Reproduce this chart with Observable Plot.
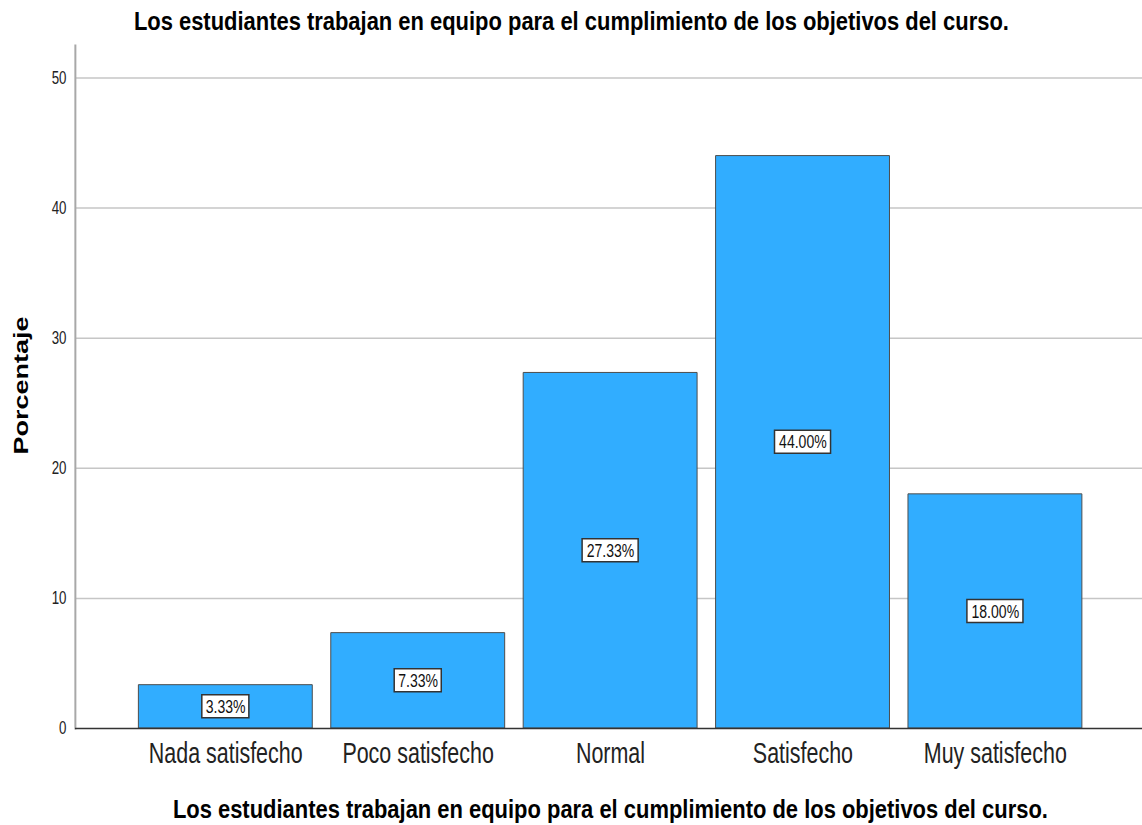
<!DOCTYPE html>
<html><head><meta charset="utf-8">
<script src="https://cdn.jsdelivr.net/npm/d3@7"></script>
<script src="https://cdn.jsdelivr.net/npm/@observablehq/plot@0.6"></script>
<style>
body{margin:0;background:#fff;}
#chart svg{display:block}
#chart svg rect, #chart svg line, #chart svg path{vector-effect:non-scaling-stroke}
</style>
</head><body><div id="chart"></div>
<script>
const categories = ["Nada satisfecho", "Poco satisfecho", "Normal", "Satisfecho", "Muy satisfecho"];
const percentages = [3.33, 7.33, 27.33, 44.00, 18.00];
const valueLabels = ["3.33%", "7.33%", "27.33%", "44.00%", "18.00%"];
const yTicks = [0, 10, 20, 30, 40, 50];
const chartTitle = "Los estudiantes trabajan en equipo para el cumplimiento de los objetivos del curso.";
const xTitle = "Los estudiantes trabajan en equipo para el cumplimiento de los objetivos del curso.";
const yTitle = "Porcentaje";

const data = categories.map((c, i) => ({category: c, value: percentages[i], label: valueLabels[i]}));

const SQ = 0.74;            // horizontal squeeze of the original rendering
const W = 1142, H = 825;
const VW = W / SQ;
const font = "'Liberation Sans', Arial, sans-serif";
const mL = 75 / SQ;
const r0 = 138 / SQ, r1 = 1082 / SQ, padIn = 0.097;
const bw = (r1 - r0) / (categories.length - padIn) * (1 - padIn);
const frameCx = (mL + VW) / 2;

const boxMarks = data.map(d => {
  const boxW = (9 * d.label.length + 2) / SQ;
  const ins = (bw - boxW) / 2;
  return Plot.barY([d], {
    x: "category", y1: v => v.value / 2, y2: v => v.value / 2,
    insetLeft: ins, insetRight: ins, insetTop: -11.5, insetBottom: -11.5,
    fill: "#fff", stroke: "#333", strokeWidth: 1.5
  });
});

const plot = Plot.plot({
  width: VW, height: H,
  marginLeft: mL, marginRight: 0, marginTop: 45, marginBottom: 97,
  style: {fontFamily: font, background: "#fff", color: "#222"},
  x: {domain: categories, range: [r0, r1], paddingInner: padIn, paddingOuter: 0, label: null},
  y: {domain: [0, 52.5], label: null},
  marks: [
    Plot.ruleY(yTicks.filter(t => t > 0), {stroke: "#c6c6c6", strokeWidth: 1.5}),
    Plot.frame({anchor: "left", stroke: "#a8a8a8", strokeWidth: 2}),
    Plot.barY(data, {x: "category", y: "value", fill: "#31adff", stroke: "#4d4d4d", strokeWidth: 1}),
    Plot.ruleY([0], {stroke: "#333", strokeWidth: 1.5}),
    Plot.axisY({ticks: yTicks, tickSize: 0, tickPadding: 12, fontSize: 18, label: null, fill: "#222"}),
    Plot.axisX({tickSize: 0, tickPadding: 14, fontSize: 29, label: null, fill: "#222"}),
    ...boxMarks,
    Plot.text(data, {x: "category", y: d => d.value / 2, text: "label", fontSize: 19, fill: "#111"}),
    Plot.text([chartTitle], {frameAnchor: "top", lineAnchor: "middle", textAnchor: "middle", dy: -24, dx: 571 / SQ - frameCx, fontWeight: "bold", fontSize: 25.5, fill: "#000"}),
    Plot.text([xTitle], {frameAnchor: "bottom", lineAnchor: "middle", textAnchor: "middle", dy: 81, dx: 610 / SQ - frameCx, fontWeight: "bold", fontSize: 25.5, fill: "#000"}),
    Plot.text([yTitle], {frameAnchor: "left", textAnchor: "middle", lineAnchor: "middle", rotate: -90, dx: 21 / SQ - mL, dy: -1.5, fontWeight: "bold", fontSize: 27, fill: "#000"})
  ]
});

// the reference titles are drawn wider than the font's natural width
plot.querySelectorAll("text").forEach(t => {
  if (t.textContent === chartTitle || t.textContent === xTitle) {
    t.setAttribute("textLength", 875 / SQ);
    t.setAttribute("lengthAdjust", "spacingAndGlyphs");
  }
});

plot.setAttribute("preserveAspectRatio", "none");
plot.setAttribute("width", W);
plot.setAttribute("height", H);
plot.style.width = W + "px";
plot.style.height = H + "px";
plot.style.maxWidth = "none";
document.getElementById("chart").appendChild(plot);
</script>
</body></html>
